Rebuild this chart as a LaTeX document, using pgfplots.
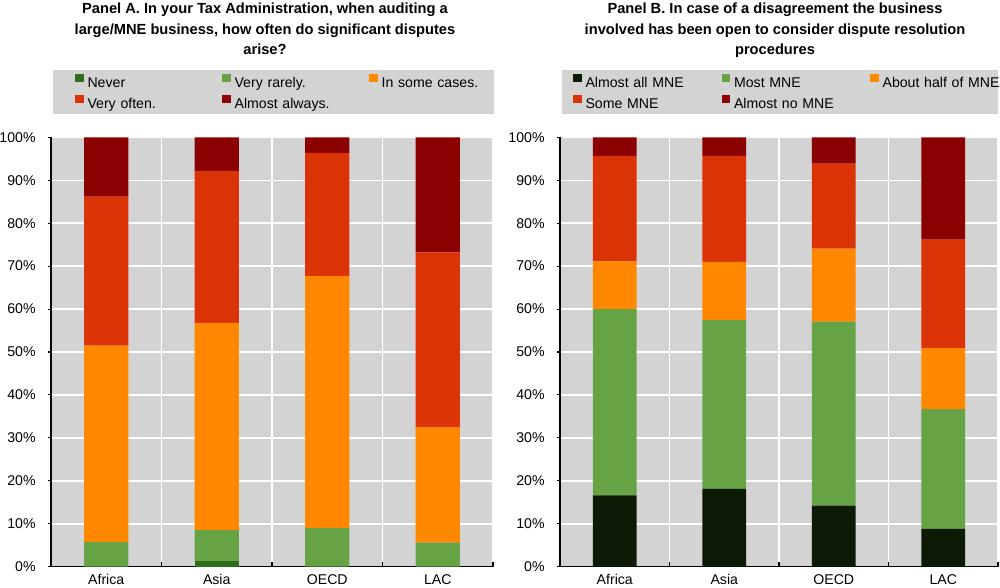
\documentclass[border=0pt]{standalone}
\usepackage{fontspec}
\setmainfont{Liberation Sans}
\usepackage{pgfplots}
\pgfplotsset{compat=1.18}
\definecolor{cnever}{HTML}{2D6E1E}
\definecolor{cgreen}{HTML}{66A345}
\definecolor{corange}{HTML}{FF8800}
\definecolor{cred}{HTML}{DA3306}
\definecolor{cdark}{HTML}{8B0000}
\definecolor{cblack}{HTML}{0C1A06}
\definecolor{bgc}{HTML}{D3D3D3}
\definecolor{legbg}{HTML}{D3D3D3}
\pgfplotsset{
  panel/.style={
    scale only axis, height=322.05pt,
    ybar stacked, bar width=0.4,
    ymin=0, ymax=100, xmin=-0.5, xmax=3.5,
    enlargelimits=false,
    xtick={0,1,2,3}, xticklabels={Africa,Asia,OECD,LAC},
    minor xtick={0.5,1.5,2.5,3.5},
    ytick={0,10,...,100},
    yticklabel={\pgfmathprintnumber{\tick}\%},
    /pgf/number format/assume math mode=true,
    tick label style={font=\fontsize{10.6}{12}\selectfont, black},
    yticklabel style={xshift=-5.5pt},
    axis background/.style={fill=bgc},
    ymajorgrids, xminorgrids,
    major grid style={white, line width=1.1pt},
    minor grid style={white, line width=1.1pt},
    axis x line*=bottom, axis y line*=left,
    axis line style={black, line width=1.1pt, -},
    tick align=outside,
    major tick length=2.5pt, minor tick length=3.75pt,
    major x tick style={draw=none},
    minor x tick style={black, line width=0.8pt, yshift=3.75pt},
    major y tick style={black, line width=0.8pt},
    every axis plot post/.append style={
      legend image code/.code={\path[##1,/tikz/.cd,draw=none] (0pt,1.1pt) rectangle (6.4pt,7.5pt);}},
    legend columns=3,
    legend cell align=left,
    legend style={at={(0,1)}, anchor=north west, yshift=48.2pt,
      fill=none, draw=none, inner sep=0pt, outer sep=0pt,
      nodes={text width=90pt, inner xsep=3pt, inner ysep=3pt, text height=7.5pt, text depth=2.25pt, align=left, font=\fontsize{10.6}{12}\selectfont},
      /tikz/every odd column/.append style={column sep=0pt}},
  }
}
\begin{document}
\begin{tikzpicture}[x=0.75pt,y=-0.75pt]
\path[use as bounding box] (0,0) rectangle (1000,587);
\fill[legbg] (53,70) rectangle (494,114);
\fill[legbg] (562,70) rectangle (998,114);
\node[anchor=north, align=center, inner sep=0pt, font=\bfseries\fontsize{11}{15.2}\selectfont] at (265,3)
  {Panel A. In your Tax Administration, when auditing a\\large/MNE business, how often do significant disputes\\arise?};
\node[anchor=north, align=center, inner sep=0pt, font=\bfseries\fontsize{11}{15.2}\selectfont] at (775,3)
  {Panel B. In case of a disagreement the business\\involved has been open to consider dispute resolution\\procedures};
\coordinate (A) at (51,566.7);
\coordinate (B) at (560,566.7);
\begin{axis}[panel, at={(A)}, anchor=south west, width=331.5pt,
  legend style={xshift=18pt, /tikz/every even column/.append style={column sep=7.9pt}}]
\addplot[fill=cnever, draw=none] coordinates {(0,0) (1,1.3) (2,0) (3,0)};
\addlegendentry{Never}
\addplot[fill=cgreen, draw=none] coordinates {(0,5.7) (1,7.2) (2,9.0) (3,5.6)};
\addlegendentry{Very rarely.}
\addplot[fill=corange, draw=none] coordinates {(0,45.8) (1,48.3) (2,58.7) (3,26.9)};
\addlegendentry{In some cases.}
\addplot[fill=cred, draw=none] coordinates {(0,34.7) (1,35.4) (2,28.7) (3,40.7)};
\addlegendentry{Very often.}
\addplot[fill=cdark, draw=none] coordinates {(0,13.8) (1,7.8) (2,3.6) (3,26.8)};
\addlegendentry{Almost always.}
\end{axis}
\begin{axis}[panel, at={(B)}, anchor=south west, width=328.5pt,
  legend style={xshift=9.75pt, /tikz/every even column/.append style={column sep=9pt}}]
\addplot[fill=cblack, draw=none] coordinates {(0,16.6) (1,18.1) (2,14.2) (3,8.8)};
\addlegendentry{Almost all MNE}
\addplot[fill=cgreen, draw=none] coordinates {(0,43.4) (1,39.3) (2,42.9) (3,27.9)};
\addlegendentry{Most MNE}
\addplot[fill=corange, draw=none] coordinates {(0,11.1) (1,13.6) (2,17.0) (3,14.2)};
\addlegendentry{About half of MNE}
\addplot[fill=cred, draw=none] coordinates {(0,24.6) (1,24.7) (2,19.8) (3,25.3)};
\addlegendentry{Some MNE}
\addplot[fill=cdark, draw=none] coordinates {(0,4.3) (1,4.3) (2,6.1) (3,23.8)};
\addlegendentry{Almost no MNE}
\end{axis}
\end{tikzpicture}
\end{document}
